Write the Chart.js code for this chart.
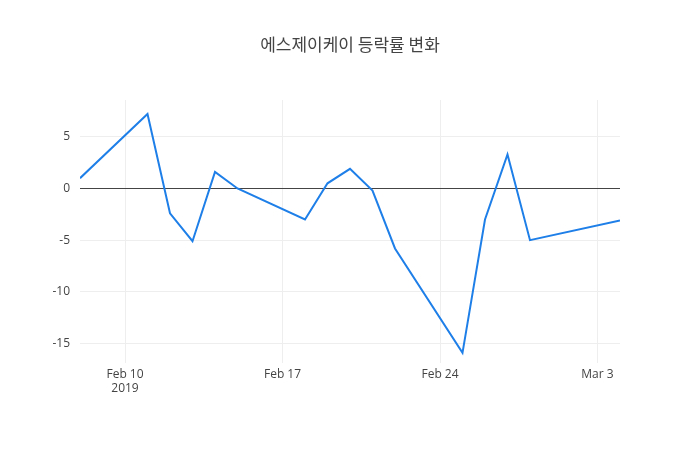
<!DOCTYPE html>
<html>
<head>
<meta charset="utf-8">
<script src="https://cdn.jsdelivr.net/npm/chart.js@4"></script>
<style>
  body { margin: 0; background: #fff; }
  #wrap { width: 700px; height: 450px; }
</style>
</head>
<body>
<div id="wrap"><canvas id="c"></canvas></div>
<script>
const chartTitle = '에스제이케이 등락률 변화';
const dates = ['2019-02-08', '2019-02-11', '2019-02-12', '2019-02-13', '2019-02-14', '2019-02-15',
    '2019-02-18', '2019-02-19', '2019-02-20', '2019-02-21', '2019-02-22',
    '2019-02-25', '2019-02-26', '2019-02-27', '2019-02-28', '2019-03-04'];
const values = [1.0, 7.2, -2.4, -5.1, 1.6, 0.0, -3.0, 0.5, 1.9, -0.2, -5.8, -15.9, -3.0, 3.3, -5.0, -3.1];
const tickDates = ['2019-02-10', '2019-02-17', '2019-02-24', '2019-03-03'];
const tickLabels = [['Feb 10', '2019'], 'Feb 17', 'Feb 24', 'Mar 3'];
const yTicks = [-15, -10, -5, 0, 5];

const base = Date.UTC(2019, 1, 8);
function dayOf(s) {
    const p = s.split('-').map(Number);
    return (Date.UTC(p[0], p[1] - 1, p[2]) - base) / 86400000;
}
const points = dates.map((d, i) => ({ x: dayOf(d), y: values[i] }));
const tickDays = tickDates.map(dayOf);

const font = { family: '"Open Sans", "Noto Sans CJK KR", sans-serif', size: 12 };

// title centred on the whole canvas, like the original
const pageTitle = {
    id: 'pageTitle',
    afterDraw(chart) {
        const ctx = chart.ctx;
        ctx.save();
        ctx.fillStyle = '#444';
        ctx.font = '17px "Noto Sans CJK KR", sans-serif';
        ctx.textAlign = 'center';
        ctx.textBaseline = 'middle';
        ctx.fillText(chartTitle, chart.width / 2, 45);
        ctx.restore();
    }
};

new Chart(document.getElementById('c'), {
    type: 'line',
    data: {
        datasets: [{
            data: points,
            borderColor: '#1f7fe8',
            borderWidth: 2,
            pointRadius: 0,
            tension: 0,
            fill: false
        }]
    },
    plugins: [pageTitle],
    options: {
        responsive: true,
        maintainAspectRatio: false,
        animation: false,
        layout: { padding: { top: 100, right: 80, bottom: 50, left: 0 } },
        plugins: {
            legend: { display: false },
            tooltip: { enabled: false }
        },
        scales: {
            x: {
                type: 'linear',
                min: 0,
                max: dayOf('2019-03-04'),
                afterBuildTicks: axis => { axis.ticks = tickDays.map(v => ({ value: v })); },
                ticks: {
                    color: '#444',
                    font: font,
                    maxRotation: 0,
                    padding: 4,
                    callback: (v) => tickLabels[tickDays.indexOf(v)]
                },
                grid: { color: '#eee', drawTicks: false },
                border: { display: false }
            },
            y: {
                min: -16.9,
                max: 8.56,
                afterBuildTicks: axis => { axis.ticks = yTicks.map(v => ({ value: v })); },
                afterFit: axis => { axis.width = 80; },
                ticks: { color: '#444', font: font, padding: 10 },
                grid: {
                    color: ctx => ctx.tick && ctx.tick.value === 0 ? '#444' : '#eee',
                    lineWidth: 1,
                    drawTicks: false
                },
                border: { display: false }
            }
        }
    }
});
</script>
</body>
</html>
